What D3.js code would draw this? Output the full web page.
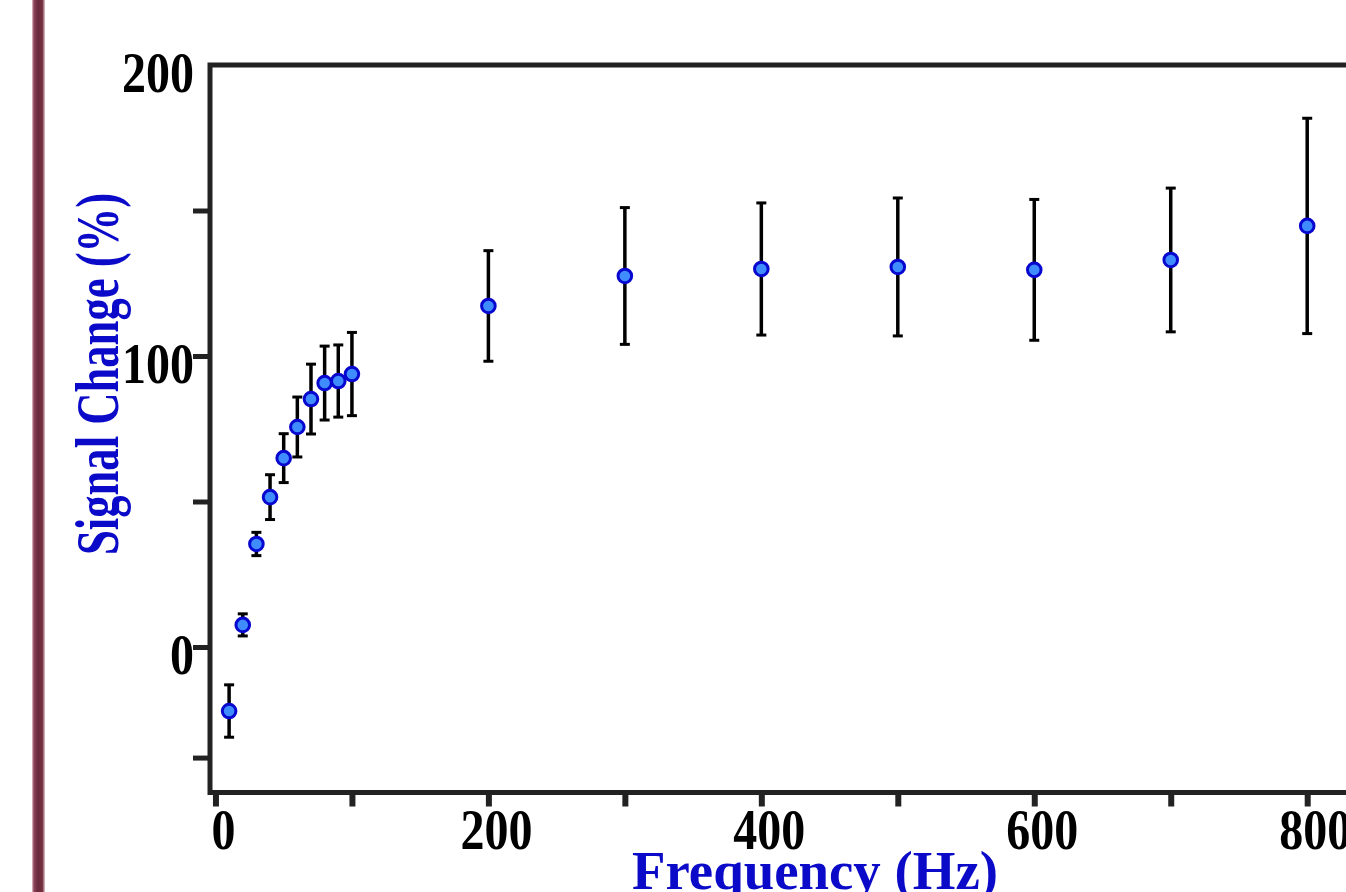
<!DOCTYPE html>
<html>
<head>
<meta charset="utf-8">
<script src="https://cdn.jsdelivr.net/npm/d3@7"></script>
<style>
  html, body { margin: 0; padding: 0; background: #ffffff; overflow: hidden; }
  svg { display: block; }
</style>
</head>
<body>
<svg id="chart" width="1346" height="892"></svg>
<script>
// ---- data ----
const frequencies = [10, 20, 30, 40, 50, 60, 70, 80, 90, 100, 200, 300, 400, 500, 600, 700, 800];
const signalMeans = [-22, 7.6, 35.4, 51.5, 64.9, 75.6, 85.2, 90.7, 91.4, 93.8, 117.2, 127.5, 129.9, 130.6, 129.6, 133.0, 144.7];
const signalErrors = [9, 3.8, 4, 7.7, 8.4, 10.3, 12, 12.7, 12.4, 14.3, 19, 23.5, 22.7, 23.7, 24.2, 24.7, 37];
const xTickValues = [0, 100, 200, 300, 400, 500, 600, 700, 800];
const xTickLabels = [0, 200, 400, 600, 800];
const yTickValues = [-38, 0, 50, 100, 150];
const yTickLabels = [0, 100, 200];
const xTitle = "Frequency (Hz)";
const yTitle = "Signal Change (%)";

// ---- layout ----
const svg = d3.select("#chart");
const plotLeft = 210, plotTop = 65, plotBottom = 792.5, plotRight = 1400;
const x = d3.scaleLinear().domain([-4, 868]).range([plotLeft, plotRight]);
const y = d3.scaleLinear().domain([-50, 200]).range([plotBottom, plotTop]);

// left decorative maroon bar
const defs = svg.append("defs");
const grad = defs.append("linearGradient").attr("id", "bar").attr("x1", "0").attr("x2", "1").attr("y1", "0").attr("y2", "0");
[[0, "#e6c9cf"], [0.15, "#8c4257"], [0.45, "#6a2a3d"], [0.8, "#74303f"], [1, "#e8ccd2"]].forEach(s =>
  grad.append("stop").attr("offset", s[0]).attr("stop-color", s[1]));
svg.append("rect").attr("x", 32).attr("y", 0).attr("width", 13).attr("height", 892).attr("fill", "url(#bar)");

const axisColor = "#222222";

// x axis (ticks outward)
const gx = svg.append("g").attr("transform", `translate(0,${plotBottom})`)
  .call(d3.axisBottom(x).tickValues(xTickValues).tickSize(14).tickSizeOuter(0).tickFormat(""));
gx.select(".domain").remove();
gx.selectAll(".tick line").attr("stroke", axisColor).attr("stroke-width", 6);

// y axis (ticks outward)
const gy = svg.append("g").attr("transform", `translate(${plotLeft},0)`)
  .call(d3.axisLeft(y).tickValues(yTickValues).tickSize(17).tickSizeOuter(0).tickFormat(""));
gy.select(".domain").remove();
gy.selectAll(".tick line").attr("stroke", axisColor).attr("stroke-width", 5);

// frame lines: top, left, bottom
svg.append("path")
  .attr("d", `M${plotRight},${plotTop} H${plotLeft} V${plotBottom} H${plotRight}`)
  .attr("fill", "none").attr("stroke", axisColor).attr("stroke-width", 5)
  .attr("stroke-linejoin", "miter").attr("stroke-linecap", "square");

// tick labels
const font = "'Liberation Serif', 'Times New Roman', serif";
svg.append("g").selectAll("text").data(xTickLabels).join("text")
  .attr("x", d => x(d) + 8).attr("y", plotBottom + 56)
  .attr("text-anchor", "middle")
  .attr("font-family", font).attr("font-weight", "bold").attr("font-size", 57)
  .attr("textLength", d => String(d).length * 24).attr("lengthAdjust", "spacingAndGlyphs")
  .attr("fill", "#000").text(d => d);

svg.append("g").selectAll("text").data(yTickLabels).join("text")
  .attr("x", 194).attr("y", d => y(d) + 27)
  .attr("text-anchor", "end")
  .attr("font-family", font).attr("font-weight", "bold").attr("font-size", 57)
  .attr("textLength", d => String(d).length * 24).attr("lengthAdjust", "spacingAndGlyphs")
  .attr("fill", "#000").text(d => d);

// axis titles
const titleColor = "#0a0ac8";
svg.append("text")
  .attr("x", 815).attr("y", 889).attr("text-anchor", "middle")
  .attr("font-family", font).attr("font-weight", "bold").attr("font-size", 55)
  .attr("textLength", 366).attr("lengthAdjust", "spacingAndGlyphs")
  .attr("fill", titleColor).text(xTitle);

svg.append("text")
  .attr("transform", "translate(118,374) rotate(-90)").attr("text-anchor", "middle")
  .attr("font-family", font).attr("font-weight", "bold").attr("font-size", 62)
  .attr("textLength", 362).attr("lengthAdjust", "spacingAndGlyphs")
  .attr("fill", titleColor).text(yTitle);

// data
const pts = frequencies.map((f, i) => ({ f, m: signalMeans[i], e: signalErrors[i] }));
const eb = svg.append("g").attr("stroke", "#000").attr("stroke-width", 3.5);
eb.selectAll("line.v").data(pts).join("line").attr("class", "v")
  .attr("x1", d => x(d.f)).attr("x2", d => x(d.f))
  .attr("y1", d => y(d.m + d.e)).attr("y2", d => y(d.m - d.e));
eb.selectAll("line.t").data(pts).join("line").attr("class", "t")
  .attr("x1", d => x(d.f) - 5).attr("x2", d => x(d.f) + 5)
  .attr("y1", d => y(d.m + d.e)).attr("y2", d => y(d.m + d.e)).attr("stroke-width", 3);
eb.selectAll("line.b").data(pts).join("line").attr("class", "b")
  .attr("x1", d => x(d.f) - 5).attr("x2", d => x(d.f) + 5)
  .attr("y1", d => y(d.m - d.e)).attr("y2", d => y(d.m - d.e)).attr("stroke-width", 3);

svg.append("g").selectAll("circle").data(pts).join("circle")
  .attr("cx", d => x(d.f)).attr("cy", d => y(d.m)).attr("r", 6.8)
  .attr("fill", "#3f8cff").attr("stroke", "#0707cf").attr("stroke-width", 3);
</script>
</body>
</html>
